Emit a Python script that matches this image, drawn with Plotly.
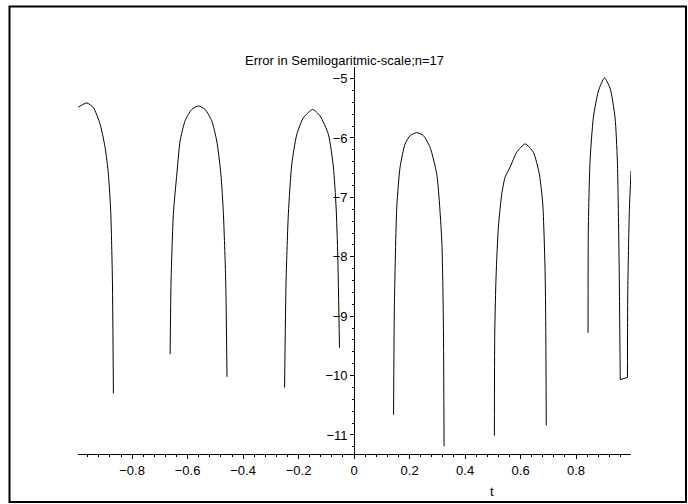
import plotly.graph_objects as go

# Arch segments of log10(error) (t, value)
t1 = [-0.9935, -0.9632, -0.9395, -0.9153, -0.8973, -0.8854, -0.8768, -0.8710, -0.8674]
y1 = [-5.48, -5.41, -5.49, -5.77, -6.16, -6.61, -7.27, -8.39, -10.30]

t2 = [-0.663, -0.6595, -0.6512, -0.6389, -0.627, -0.609, -0.585, -0.561, -0.537, -0.513, -0.495, -0.480, -0.471, -0.4627, -0.458]
y2 = [-9.64, -8.39, -7.27, -6.61, -6.05, -5.71, -5.52, -5.46, -5.52, -5.71, -6.05, -6.61, -7.27, -8.39, -10.02]

t3 = [-0.2505, -0.245, -0.2368, -0.2245, -0.2065, -0.1827, -0.1495, -0.1225, -0.0926, -0.0746, -0.0649, -0.0587, -0.0526]
y3 = [-10.20, -8.39, -7.27, -6.44, -5.94, -5.66, -5.52, -5.63, -5.94, -6.49, -7.16, -8.00, -9.53]

t4 = [0.1423, 0.1452, 0.1539, 0.1658, 0.1838, 0.2018, 0.2259, 0.2497, 0.2739, 0.298, 0.316, 0.3218, 0.3243]
y4 = [-10.66, -8.84, -7.16, -6.49, -6.10, -5.96, -5.91, -5.96, -6.16, -6.61, -7.72, -9.11, -11.19]

t5 = [0.5056, 0.507, 0.5117, 0.520, 0.5323, 0.5441, 0.5622, 0.5863, 0.6162, 0.6461, 0.6677, 0.680, 0.6883, 0.6908, 0.6926]
y5 = [-11.01, -9.28, -8.33, -7.50, -6.94, -6.66, -6.49, -6.24, -6.10, -6.24, -6.61, -7.11, -8.22, -9.17, -10.84]

t6 = [0.8432, 0.8443, 0.8505, 0.8623, 0.8804, 0.9023, 0.9225, 0.9405, 0.9488, 0.955, 0.9593]
y6 = [-9.28, -7.50, -6.38, -5.66, -5.21, -4.99, -5.16, -5.66, -6.38, -8.06, -10.07]

t7 = [0.9593, 0.9852]
y7 = [-10.07, -10.03]

t8 = [0.9852, 0.9863, 0.9921, 0.9982]
y8 = [-10.03, -8.61, -7.22, -6.55]

segments_t = [t1, t2, t3, t4, t5, t6, t7, t8]
segments_y = [y1, y2, y3, y4, y5, y6, y7, y8]

x_range = [-0.995, 0.998]
y_range = [-11.32, -4.805]
x_ticks = [-0.8, -0.6, -0.4, -0.2, 0, 0.2, 0.4, 0.6, 0.8]
y_ticks = [-5, -6, -7, -8, -9, -10, -11]
title_text = "Error in Semilogaritmic-scale;n=17"
x_label = "t"

fig = go.Figure()
for tt, yy in zip(segments_t, segments_y):
    fig.add_trace(go.Scatter(x=tt, y=yy, mode="lines",
                             line=dict(color="black", width=1, shape="spline", smoothing=0.6),
                             showlegend=False, hoverinfo="skip"))

W, H = 688, 504
ml, mr, mt, mb = 78, 57, 67, 50
pw, ph = W - ml - mr, H - mt - mb

def px(xp):
    return (xp - ml) / pw

def py(yp):
    return (H - mb - yp) / ph

font = dict(family="Liberation Sans, Arial, sans-serif", size=13, color="black")

fig.update_layout(
    width=W, height=H,
    margin=dict(l=ml, r=mr, t=mt, b=mb, pad=0),
    paper_bgcolor="white", plot_bgcolor="white",
    font=font,
    showlegend=False,
    xaxis=dict(range=x_range, tickvals=x_ticks, ticktext=[("−" if v < 0 else "") + (f"{abs(v):.1f}" if v != 0 else "0") for v in x_ticks],
               showgrid=False, zeroline=False, showline=True, linecolor="black", linewidth=1,
               ticks="outside", ticklen=4, tickcolor="black", tickwidth=1,
               minor=dict(dtick=0.04, tick0=0, ticks="outside", ticklen=2, tickcolor="black", showgrid=False),
               tickfont=font, fixedrange=True),
    yaxis=dict(range=y_range, tickvals=y_ticks, ticktext=["−" + str(abs(v)) for v in y_ticks],
               anchor="free", position=(0 - x_range[0]) / (x_range[1] - x_range[0]),
               showgrid=False, zeroline=False, showline=True, linecolor="black", linewidth=1,
               ticks="outside", ticklen=4, tickcolor="black", tickwidth=1,
               minor=dict(dtick=0.2, tick0=0, ticks="outside", ticklen=2, tickcolor="black", showgrid=False),
               tickfont=font, fixedrange=True),
)

fig.add_annotation(text=title_text, xref="paper", yref="paper", x=px(344), y=py(61),
                   xanchor="center", yanchor="middle", showarrow=False, font=font)
fig.add_annotation(text=x_label, xref="paper", yref="paper", x=px(492), y=py(491),
                   xanchor="center", yanchor="middle", showarrow=False, font=font)

fig.add_shape(type="rect", xref="paper", yref="paper",
              x0=px(9.5), x1=px(686), y0=py(502), y1=py(6.5),
              line=dict(color="black", width=2), fillcolor="rgba(0,0,0,0)", layer="above")

fig.write_html("out.html")
